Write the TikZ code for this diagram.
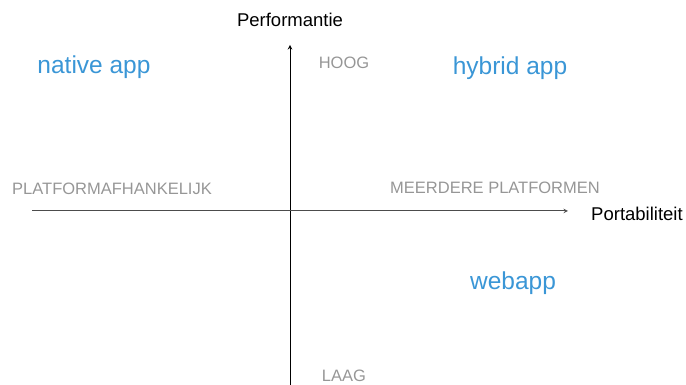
\documentclass[tikz,border=0pt]{standalone}
\usepackage{fontspec}
\setmainfont{Liberation Sans}
\usetikzlibrary{arrows,positioning}
\definecolor{appblue}{RGB}{58,150,214}
\definecolor{labelgray}{RGB}{150,150,150}

\begin{document}
\begin{tikzpicture}[
    x=1pt, y=1pt,
    axis/.style={->, >=stealth, line width=1pt},
    axistitle/.style={font=\fontsize{18.5}{22}\selectfont, text=black, inner sep=0pt},
    level/.style={font=\fontsize{16.5}{19}\selectfont, text=labelgray, inner sep=0pt},
    app/.style={font=\fontsize{24.5}{29}\selectfont, text=appblue, inner sep=0pt}
]
\useasboundingbox (0,0) rectangle (686,385);

% Axes
\coordinate (perf_bottom) at (290,0);
\coordinate (perf_top) at (290,340);
\coordinate (port_left) at (32,174);
\coordinate (port_right) at (568,174);
\draw[axis] (perf_bottom) -- (perf_top);
\draw[axis, draw=black!70] (port_left) -- (port_right);

% Axis titles
\node[axistitle] (perf_label) at (290,365) {Performantie};
\node[axistitle] (port_label) at (637,171) {Portabiliteit};

% Level labels
\node[level] (high) at (344,322) {HOOG};
\node[level] (low) at (344,9) {LAAG};
\node[level] (single) at (112,196) {PLATFORMAFHANKELIJK};
\node[level] (multi) at (495,197) {MEERDERE PLATFORMEN};

% App types
\node[app] (native) at (94,318) {native app};
\node[app] (hybrid) at (510,317) {hybrid app};
\node[app] (web) at (513,102) {webapp};

\end{tikzpicture}
\end{document}
